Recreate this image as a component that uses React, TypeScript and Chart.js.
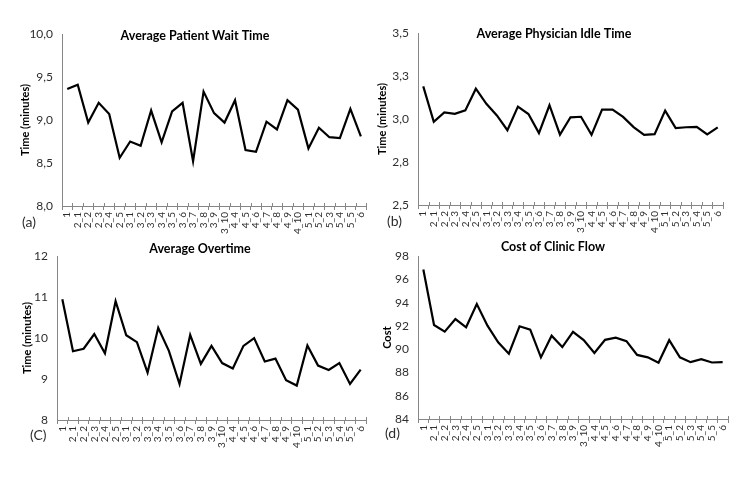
import React, { useEffect, useRef } from "react";
import { Chart, registerables } from "chart.js";

Chart.register(...registerables);

const categories = [
  "1", "2_1", "2_2", "2_3", "2_4", "2_5",
  "3_1", "3_2", "3_3", "3_4", "3_5", "3_6", "3_7", "3_8", "3_9", "3_10",
  "4_4", "4_5", "4_6", "4_7", "4_8", "4_9", "4_10",
  "5_1", "5_2", "5_3", "5_4", "5_5", "6",
];

const waitTime = [9.36, 9.41, 8.97, 9.2, 9.07, 8.56, 8.75, 8.7, 9.11, 8.74, 9.1, 9.2, 8.52, 9.33, 9.08, 8.97, 9.23, 8.65, 8.63, 8.98, 8.89, 9.23, 9.12, 8.67, 8.91, 8.8, 8.79, 9.13, 8.81];
const idleTime = [3.19, 2.984, 3.038, 3.03, 3.05, 3.176, 3.088, 3.021, 2.935, 3.072, 3.029, 2.918, 3.08, 2.909, 3.01, 3.013, 2.908, 3.055, 3.055, 3.012, 2.953, 2.908, 2.912, 3.049, 2.947, 2.952, 2.954, 2.91, 2.951];
const overtime = [10.95, 9.68, 9.74, 10.1, 9.63, 10.9, 10.07, 9.9, 9.16, 10.25, 9.69, 8.88, 10.08, 9.37, 9.81, 9.39, 9.26, 9.81, 10.0, 9.43, 9.5, 8.97, 8.84, 9.82, 9.33, 9.22, 9.39, 8.88, 9.23];
const cost = [96.86, 92.08, 91.51, 92.59, 91.89, 93.89, 92.03, 90.59, 89.62, 91.97, 91.68, 89.3, 91.16, 90.19, 91.49, 90.78, 89.68, 90.81, 91.0, 90.7, 89.51, 89.3, 88.84, 90.78, 89.3, 88.89, 89.14, 88.86, 88.89];

const waitTicks = { min: 8, max: 10, step: 0.5, decimals: 1 };
const idleTicks = { min: 2.5, max: 3.5, step: 0.25, decimals: 1 };
const overtimeTicks = { min: 8, max: 12, step: 1, decimals: 0 };
const costTicks = { min: 84, max: 98, step: 2, decimals: 0 };

const FONT = "Lato, 'Open Sans', sans-serif";
const AXIS = "#868686";
const TEXT = "#2e2e2e";

type PanelProps = {
  left: number; top: number; width: number; height: number;
  plot: { l: number; r: number; t: number; b: number };
  values: number[];
  ticks: { min: number; max: number; step: number; decimals: number };
  title: string; titleX: number; titleY: number;
  yTitle: string; yTitleX: number;
  tag: string; tagX: number; tagY: number;
};

function Panel(p: PanelProps) {
  const ref = useRef<HTMLCanvasElement | null>(null);
  useEffect(() => {
    const canvas = ref.current;
    if (!canvas) return;
    const decorations = {
      id: "decor",
      afterDraw(chart: any) {
        const ctx = chart.ctx;
        const xs = chart.scales.x;
        ctx.save();
        ctx.strokeStyle = AXIS;
        ctx.lineWidth = 1;
        const n = categories.length;
        for (let i = 0; i <= n; i++) {
          const x = Math.round(xs.getPixelForValue(i - 0.5)) + 0.5;
          ctx.beginPath();
          ctx.moveTo(x, xs.top - 3);
          ctx.lineTo(x, xs.top);
          ctx.stroke();
        }
        ctx.fillStyle = "#000";
        ctx.font = `bold 12.5px ${FONT}`;
        ctx.textAlign = "center";
        ctx.textBaseline = "middle";
        ctx.fillText(p.title, p.titleX, p.titleY);
        ctx.fillStyle = TEXT;
        ctx.font = `14px ${FONT}`;
        ctx.textAlign = "left";
        ctx.fillText(p.tag, p.tagX, p.tagY);
        ctx.restore();
      },
    };
    const fmt = (v: any) => Number(v).toFixed(p.ticks.decimals).replace(".", ",");
    const chart = new Chart(canvas, {
      type: "line",
      data: {
        labels: categories,
        datasets: [
          {
            data: p.values,
            borderColor: "#000",
            borderWidth: 2.2,
            pointRadius: 0,
            tension: 0,
            fill: false,
          },
        ],
      },
      options: {
        animation: false,
        responsive: false,
        devicePixelRatio: 1,
        layout: { padding: { left: 0, top: p.plot.t, right: p.width - p.plot.r, bottom: 0 } },
        plugins: { legend: { display: false }, tooltip: { enabled: false }, title: { display: false } },
        scales: {
          x: {
            type: "category",
            offset: true,
            grid: { offset: true, drawOnChartArea: false, drawTicks: true, tickLength: 4, color: AXIS },
            border: { display: true, color: AXIS, width: 1 },
            ticks: {
              autoSkip: false,
              minRotation: 90,
              maxRotation: 90,
              padding: 2,
              color: TEXT,
              font: { family: FONT, size: 10 },
            },
            afterFit: (s: any) => { s.height = p.height - p.plot.b; },
          },
          y: {
            min: p.ticks.min,
            max: p.ticks.max,
            grid: { drawOnChartArea: false, drawTicks: false, color: AXIS },
            border: { display: true, color: AXIS, width: 1 },
            ticks: {
              stepSize: p.ticks.step,
              padding: 9,
              color: TEXT,
              font: { family: FONT, size: 12 },
              callback: (v: any) => fmt(v),
            },
            title: {
              display: true,
              text: p.yTitle,
              color: "#000",
              font: { family: FONT, size: 11, weight: "bold" },
              padding: { top: p.yTitleX - 6.6, bottom: 0 },
            },
            afterFit: (s: any) => { s.width = p.plot.l; },
          },
        },
      },
      plugins: [decorations],
    } as any);
    return () => chart.destroy();
  }, []);
  return (
    <div style={{ position: "absolute", left: p.left, top: p.top, width: p.width, height: p.height }}>
      <canvas ref={ref} width={p.width} height={p.height} style={{ width: p.width, height: p.height, display: "block" }} />
    </div>
  );
}

export default function App() {
  return (
    <div style={{ position: "absolute", left: 0, top: 0, width: 755, height: 480, background: "#fff" }}>
      <Panel left={0} top={0} width={375} height={240}
        plot={{ l: 62, r: 367, t: 34, b: 206 }}
        values={waitTime} ticks={waitTicks}
        title="Average Patient Wait Time" titleX={195} titleY={36}
        yTitle="Time (minutes)" yTitleX={25}
        tag="(a)" tagX={22} tagY={222} />
      <Panel left={375} top={0} width={380} height={240}
        plot={{ l: 43, r: 348, t: 33, b: 205 }}
        values={idleTime} ticks={idleTicks}
        title="Average Physician Idle Time" titleX={179} titleY={34}
        yTitle="Time (minutes)" yTitleX={7}
        tag="(b)" tagX={12} tagY={221} />
      <Panel left={0} top={240} width={375} height={240}
        plot={{ l: 57, r: 366, t: 8, b: 180 }}
        values={overtime} ticks={overtimeTicks}
        title="Average Overtime" titleX={200} titleY={9}
        yTitle="Time (minutes)" yTitleX={27}
        tag="(C)" tagX={30} tagY={195} />
      <Panel left={375} top={240} width={380} height={240}
        plot={{ l: 43, r: 353, t: 6, b: 179 }}
        values={cost} ticks={costTicks}
        title="Cost of Clinic Flow" titleX={178} titleY={7}
        yTitle="Cost" yTitleX={12}
        tag="(d)" tagX={10} tagY={193} />
    </div>
  );
}
